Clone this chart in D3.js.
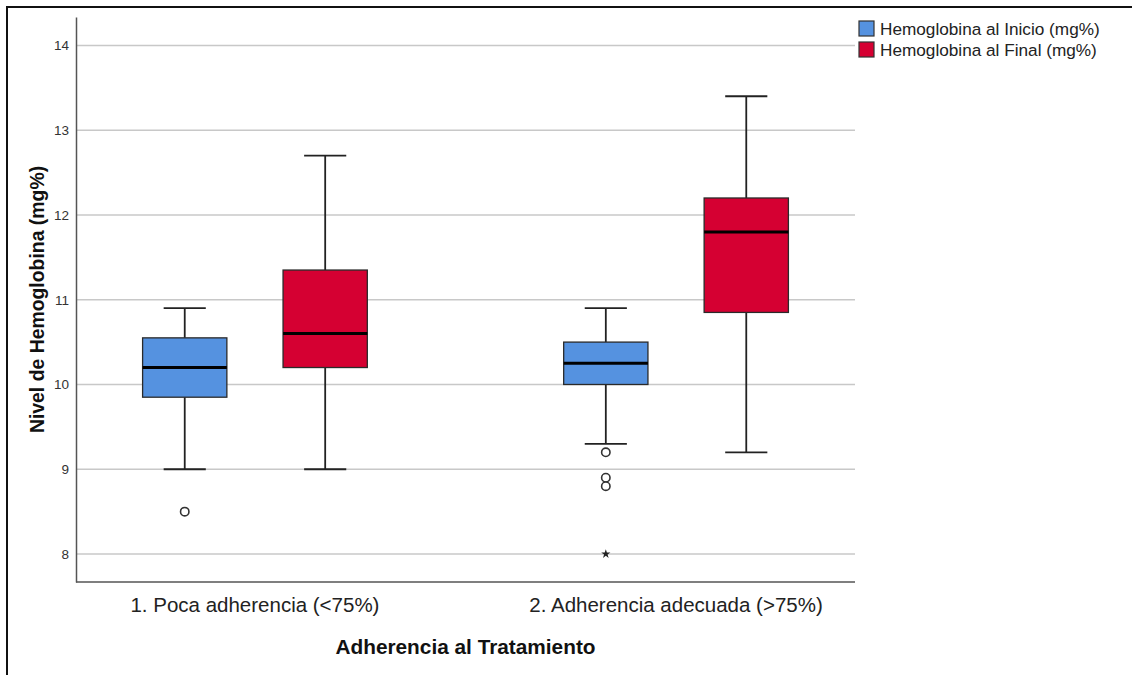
<!DOCTYPE html>
<html>
<head>
<meta charset="utf-8">
<script src="https://cdn.jsdelivr.net/npm/d3@7"></script>
<style>
  html, body { margin: 0; padding: 0; background: #fff; }
  svg { display: block; font-family: "Liberation Sans", Arial, sans-serif; }
</style>
</head>
<body>
<svg id="chart" width="1132" height="675"></svg>
<script>
// Groups on the x axis and the two measured series
const groups = ["1. Poca adherencia (<75%)", "2. Adherencia adecuada (>75%)"];
const series = ["Hemoglobina al Inicio (mg%)", "Hemoglobina al Final (mg%)"];
const seriesColors = ["#5592e0", "#d50032"];

// Five-number summaries per group (Inicio)
const inicioMin = [9.0, 9.3];
const inicioQ1  = [9.85, 10.0];
const inicioMed = [10.2, 10.25];
const inicioQ3  = [10.55, 10.5];
const inicioMax = [10.9, 10.9];
const inicioOutliers = [[8.5], [9.2, 8.9, 8.8]];
const inicioExtremes = [[], [8.0]];

// Five-number summaries per group (Final)
const finalMin = [9.0, 9.2];
const finalQ1  = [10.2, 10.85];
const finalMed = [10.6, 11.8];
const finalQ3  = [11.35, 12.2];
const finalMax = [12.7, 13.4];
const finalOutliers = [[], []];
const finalExtremes = [[], []];

const yTicks = [8, 9, 10, 11, 12, 13, 14];

const yLabel = "Nivel de Hemoglobina (mg%)";
const xLabel = "Adherencia al Tratamiento";

// Assemble box records for drawing
const stats = [
  { min: inicioMin, q1: inicioQ1, med: inicioMed, q3: inicioQ3, max: inicioMax, out: inicioOutliers, ext: inicioExtremes },
  { min: finalMin, q1: finalQ1, med: finalMed, q3: finalQ3, max: finalMax, out: finalOutliers, ext: finalExtremes }
];
const boxes = [];
groups.forEach((g, gi) => {
  series.forEach((s, si) => {
    const st = stats[si];
    boxes.push({
      group: g, series: s, color: seriesColors[si],
      min: st.min[gi], q1: st.q1[gi], med: st.med[gi], q3: st.q3[gi], max: st.max[gi],
      out: st.out[gi], ext: st.ext[gi]
    });
  });
});

const svg = d3.select("#chart");
const plot = { left: 76, right: 855, top: 17, bottom: 582 };

const x = d3.scalePoint().domain(groups).range([plot.left, plot.right]).padding(0.425);
const xs = d3.scaleBand().domain(series).range([-154.5, 154.5]).paddingInner(0.4).paddingOuter(0.3);
const y = d3.scaleLinear().domain([7.67, 14.335]).range([plot.bottom, plot.top]);

// Outer frame (top and left edges)
svg.append("path")
  .attr("d", `M7,675 L7,7 L1132,7`)
  .attr("fill", "none").attr("stroke", "#111").attr("stroke-width", 2);

// Horizontal gridlines
svg.append("g").selectAll("line").data(yTicks).join("line")
  .attr("x1", plot.left).attr("x2", plot.right)
  .attr("y1", d => y(d)).attr("y2", d => y(d))
  .attr("stroke", "#c8c8c8").attr("stroke-width", 1.5);

// Y axis
const yAxis = svg.append("g").attr("transform", `translate(${plot.left},0)`)
  .call(d3.axisLeft(y).tickValues(yTicks).tickSize(0).tickPadding(7).tickFormat(d3.format("d")));
yAxis.select(".domain").attr("stroke", "#555").attr("stroke-width", 1.5);
yAxis.selectAll("text").attr("font-size", 13.5).attr("fill", "#333")
  .attr("font-family", "Liberation Sans, Arial, sans-serif");

// X axis baseline
svg.append("line")
  .attr("x1", plot.left).attr("x2", plot.right)
  .attr("y1", plot.bottom).attr("y2", plot.bottom)
  .attr("stroke", "#555").attr("stroke-width", 1.5);

// Category labels
svg.append("g").selectAll("text").data(groups).join("text")
  .attr("x", d => x(d)).attr("y", 612)
  .attr("text-anchor", "middle").attr("font-size", 20.5).attr("fill", "#222")
  .text(d => d);

// Axis titles
svg.append("text")
  .attr("x", (plot.left + plot.right) / 2).attr("y", 654)
  .attr("text-anchor", "middle").attr("font-size", 20.8).attr("font-weight", "bold").attr("fill", "#111")
  .text(xLabel);
svg.append("text")
  .attr("transform", `translate(44,${(plot.top + plot.bottom) / 2}) rotate(-90)`)
  .attr("text-anchor", "middle").attr("font-size", 19.4).attr("font-weight", "bold").attr("fill", "#111")
  .text(yLabel);

// Box plots
const bw = xs.bandwidth();
const cx = d => x(d.group) + xs(d.series) + bw / 2;
const gBox = svg.append("g").selectAll("g").data(boxes).join("g");

gBox.append("line")
  .attr("x1", cx).attr("x2", cx)
  .attr("y1", d => y(d.max)).attr("y2", d => y(d.q3))
  .attr("stroke", "#222").attr("stroke-width", 1.8);
gBox.append("line")
  .attr("x1", cx).attr("x2", cx)
  .attr("y1", d => y(d.q1)).attr("y2", d => y(d.min))
  .attr("stroke", "#222").attr("stroke-width", 1.8);
gBox.append("line")
  .attr("x1", d => cx(d) - bw / 4).attr("x2", d => cx(d) + bw / 4)
  .attr("y1", d => y(d.max)).attr("y2", d => y(d.max))
  .attr("stroke", "#222").attr("stroke-width", 1.8);
gBox.append("line")
  .attr("x1", d => cx(d) - bw / 4).attr("x2", d => cx(d) + bw / 4)
  .attr("y1", d => y(d.min)).attr("y2", d => y(d.min))
  .attr("stroke", "#222").attr("stroke-width", 1.8);
gBox.append("rect")
  .attr("x", d => cx(d) - bw / 2).attr("width", bw)
  .attr("y", d => y(d.q3)).attr("height", d => y(d.q1) - y(d.q3))
  .attr("fill", d => d.color).attr("stroke", "#2a2a2a").attr("stroke-width", 1.3);
gBox.append("line")
  .attr("x1", d => cx(d) - bw / 2).attr("x2", d => cx(d) + bw / 2)
  .attr("y1", d => y(d.med)).attr("y2", d => y(d.med))
  .attr("stroke", "#000").attr("stroke-width", 3);

// Outliers (circles) and extremes (stars)
gBox.selectAll("circle").data(d => d.out.map(v => ({ v, d }))).join("circle")
  .attr("cx", o => cx(o.d)).attr("cy", o => y(o.v)).attr("r", 4.2)
  .attr("fill", "#fff").attr("stroke", "#333").attr("stroke-width", 1.6);
gBox.selectAll("path.ext").data(d => d.ext.map(v => ({ v, d }))).join("path")
  .attr("class", "ext")
  .attr("transform", o => `translate(${cx(o.d)},${y(o.v)})`)
  .attr("d", d3.symbol(d3.symbolStar, 26))
  .attr("fill", "#222");

// Legend
const leg = svg.append("g").selectAll("g").data(series).join("g")
  .attr("transform", (d, i) => `translate(859,${21 + i * 21})`);
leg.append("rect").attr("width", 15).attr("height", 15)
  .attr("fill", (d, i) => seriesColors[i]).attr("stroke", "#333").attr("stroke-width", 1.2);
leg.append("text").attr("x", 21).attr("y", 14)
  .attr("font-size", 17.2).attr("fill", "#222").text(d => d);
</script>
</body>
</html>
